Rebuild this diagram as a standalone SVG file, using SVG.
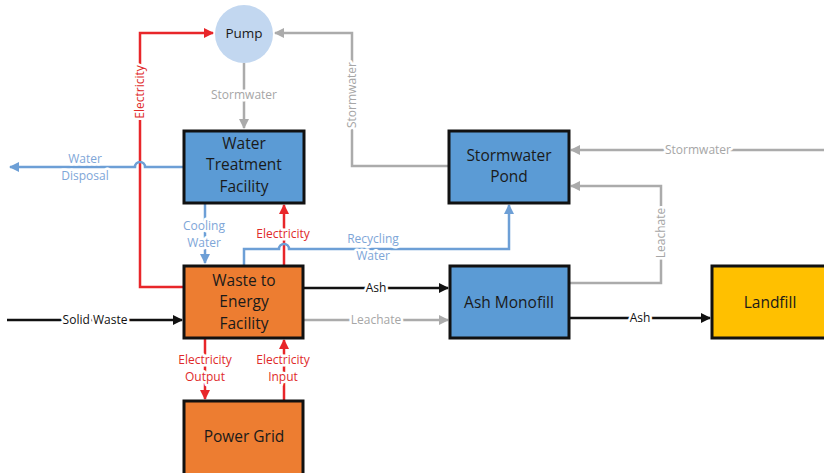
<svg xmlns="http://www.w3.org/2000/svg" width="824" height="473" viewBox="0 0 824 473">
<defs>
<marker id="aR" viewBox="0 0 10 10" refX="9" refY="5" markerWidth="4" markerHeight="4" orient="auto" markerUnits="strokeWidth"><path d="M0,0L10,5L0,10z" fill="#E8262A"/></marker>
<marker id="aG" viewBox="0 0 10 10" refX="9" refY="5" markerWidth="4" markerHeight="4" orient="auto" markerUnits="strokeWidth"><path d="M0,0L10,5L0,10z" fill="#ABABAB"/></marker>
<marker id="aB" viewBox="0 0 10 10" refX="9" refY="5" markerWidth="4" markerHeight="4" orient="auto" markerUnits="strokeWidth"><path d="M0,0L10,5L0,10z" fill="#6D9FD6"/></marker>
<marker id="aK" viewBox="0 0 10 10" refX="9" refY="5" markerWidth="4" markerHeight="4" orient="auto" markerUnits="strokeWidth"><path d="M0,0L10,5L0,10z" fill="#111"/></marker>
<style>
.box{stroke:#111;stroke-width:3}
.blue{fill:#5B9BD5}
.org{fill:#ED7D31}
.yel{fill:#FFC000}
.nt{font-family:"Open Sans","Noto Sans",sans-serif;font-size:15.5px;fill:#1a1a1a;text-anchor:middle}
.ln{fill:none;stroke-width:2.5}
.r{stroke:#E8262A}
.g{stroke:#ABABAB}
.b{stroke:#6D9FD6}
.k{stroke:#111}
.lb{font-family:"Open Sans","Noto Sans",sans-serif;font-size:12px;text-anchor:middle;paint-order:stroke;stroke:#fff;stroke-width:5px;stroke-linejoin:round}
.lr{fill:#E02A2A}
.lg{fill:#A6A6A6}
.lbl{fill:#7EA6D8}
.lk{fill:#111}
</style>
</defs>
<rect width="824" height="473" fill="#fff"/>
<g id="connectors">
<path class="ln r" d="M184,287H140V33H213" marker-end="url(#aR)"/>
<path class="ln g" d="M244,63V128" marker-end="url(#aG)"/>
<path class="ln g" d="M449,166H352V33H275" marker-end="url(#aG)"/>
<path class="ln g" d="M824,150H571" marker-end="url(#aG)"/>
<path class="ln g" d="M569,283H661V186H571" marker-end="url(#aG)"/>
<path class="ln b" d="M184,167H145A5,5 0 0 0 135,167H10" marker-end="url(#aB)"/>
<path class="ln b" d="M205,203V263" marker-end="url(#aB)"/>
<path class="ln r" d="M284,265V205" marker-end="url(#aR)"/>
<path class="ln b" d="M244,265V249H279A5,5 0 0 1 289,249H509V205" marker-end="url(#aB)"/>
<path class="ln k" d="M303,288H448" marker-end="url(#aK)"/>
<path class="ln g" d="M303,320H448" marker-end="url(#aG)"/>
<path class="ln k" d="M7,320H182" marker-end="url(#aK)"/>
<path class="ln r" d="M205,338V399" marker-end="url(#aR)"/>
<path class="ln r" d="M284,401V340" marker-end="url(#aR)"/>
<path class="ln k" d="M569,318H710" marker-end="url(#aK)"/>
<text class="lb lr" transform="translate(144,92) rotate(-90)">Electricity</text>
<text class="lb lg" x="244" y="99">Stormwater</text>
<text class="lb lg" transform="translate(356,95) rotate(-90)">Stormwater</text>
<text class="lb lg" x="698" y="154">Stormwater</text>
<text class="lb lg" transform="translate(665,233) rotate(-90)">Leachate</text>
<text class="lb lbl" x="85" y="163">Water<tspan x="85" dy="16.5">Disposal</tspan></text>
<text class="lb lbl" x="204" y="230">Cooling<tspan x="204" dy="16.5">Water</tspan></text>
<text class="lb lr" x="283" y="238">Electricity</text>
<text class="lb lbl" x="373" y="243">Recycling<tspan x="373" dy="16.5">Water</tspan></text>
<text class="lb lk" x="376" y="292">Ash</text>
<text class="lb lg" x="376" y="324">Leachate</text>
<text class="lb lk" x="95" y="324">Solid Waste</text>
<text class="lb lr" x="205" y="364">Electricity<tspan x="205" dy="16.5">Output</tspan></text>
<text class="lb lr" x="283" y="364">Electricity<tspan x="283" dy="16.5">Input</tspan></text>
<text class="lb lk" x="640" y="322">Ash</text>
</g>
<g id="pump"><circle cx="244" cy="34" r="29" fill="#C2D7F0"/><text class="nt" x="244" y="38" style="font-size:13.5px">Pump</text></g>
<g id="wtf"><rect class="box blue" x="184" y="131" width="120" height="72"/><text class="nt" x="244" y="149">Water<tspan x="244" dy="21.3">Treatment</tspan><tspan x="244" dy="21.3">Facility</tspan></text></g>
<g id="w2e"><rect class="box org" x="184" y="266" width="119" height="72"/><text class="nt" x="244" y="286">Waste to<tspan x="244" dy="21.3">Energy</tspan><tspan x="244" dy="21.3">Facility</tspan></text></g>
<g id="grid"><rect class="box org" x="184" y="401" width="119" height="80"/><text class="nt" x="244" y="442">Power Grid</text></g>
<g id="pond"><rect class="box blue" x="449" y="131" width="120" height="72"/><text class="nt" x="509" y="161">Stormwater<tspan x="509" dy="21.3">Pond</tspan></text></g>
<g id="monofill"><rect class="box blue" x="450" y="266" width="119" height="72"/><text class="nt" x="509" y="308">Ash Monofill</text></g>
<g id="landfill"><rect class="box yel" x="712" y="266" width="130" height="72"/><text class="nt" x="770" y="308">Landfill</text></g>
</svg>
